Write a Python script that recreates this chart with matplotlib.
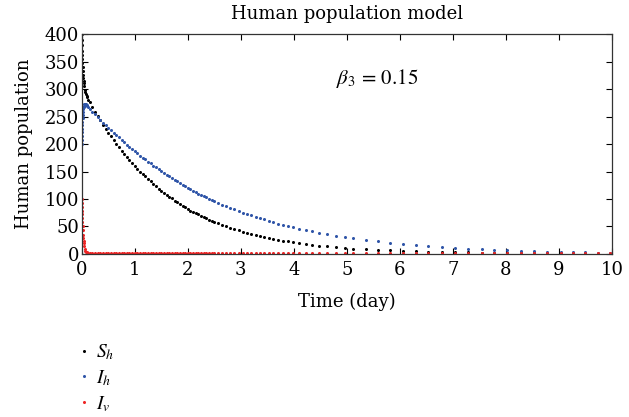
import matplotlib
matplotlib.use("Agg")
import matplotlib.pyplot as plt

# === Values (time in days) ===
t = [0, 0.002, 0.004, 0.006, 0.008, 0.01, 0.013, 0.016, 0.02, 0.025, 0.03, 0.035, 0.04,
     0.05, 0.06, 0.07, 0.08, 0.09, 0.10, 0.12, 0.15, 0.20, 0.25, 0.30, 0.35, 0.40, 0.45,
     0.50, 0.55, 0.60, 0.65, 0.70, 0.75, 0.80, 0.85, 0.90, 0.95, 1.00, 1.05, 1.10, 1.15,
     1.20, 1.25, 1.30, 1.35, 1.40, 1.45, 1.50, 1.55, 1.60, 1.65, 1.70, 1.75, 1.80, 1.85,
     1.90, 1.95, 2.00, 2.05, 2.10, 2.15, 2.20, 2.25, 2.30, 2.35, 2.40, 2.45, 2.50, 2.57,
     2.64, 2.72, 2.80, 2.88, 2.96, 3.04, 3.11, 3.20, 3.28, 3.36, 3.43, 3.53, 3.60, 3.70,
     3.79, 3.89, 3.98, 4.09, 4.22, 4.34, 4.47, 4.62, 4.80, 4.96, 5.11, 5.36, 5.58, 5.81,
     6.05, 6.30, 6.53, 6.79, 7.04, 7.28, 7.54, 7.77, 8.02, 8.28, 8.53, 8.77, 9.03, 9.26,
     9.49, 9.73, 9.96]

S_h = [400, 390, 380, 370, 362, 355, 347, 340, 333, 326, 320, 315, 311,
       305, 299, 295, 291, 288, 285, 281, 276, 267, 259, 251, 243, 235, 228,
       221, 214, 207, 200, 194, 188, 182, 176, 171, 165, 160, 155, 150, 146,
       141, 137, 132, 128, 123, 119, 115, 111, 108, 104, 101, 97, 94, 91,
       88, 85, 82, 79, 77, 74, 72, 69, 67, 65, 62, 60, 58, 55.6,
       53, 50, 47.6, 45, 42.7, 40.4, 38.5, 36.3, 34.4, 32.5, 31, 29, 27.6, 25.8,
       24.3, 22.7, 21.4, 19.8, 18.1, 16.7, 15.3, 13.8, 12.2, 11, 9.9, 8.6, 7.6, 6.6,
       5.8, 5.0, 4.4, 3.8, 3.3, 2.9, 2.5, 2.2, 1.9, 1.7, 1.5, 1.3, 1.15, 1.0,
       0.9, 0.8, 0.7]

I_h = [200, 208, 215, 222, 228, 234, 241, 247, 253, 259, 264, 267, 270,
       272.5, 273.5, 273.5, 272.5, 271, 269.5, 267.4, 264, 259, 254, 249, 244, 239, 234,
       230, 225, 221, 216, 212, 207.5, 203, 199, 195, 191, 187, 183, 179, 175.5,
       172, 168, 165, 161, 158, 154, 151, 147.5, 144, 141, 138, 135, 132, 129,
       126, 123, 120, 118, 115, 112.5, 110, 107.6, 105, 103, 100.6, 98.4, 96, 93,
       90, 87, 84, 81, 78, 75.4, 73, 70, 67.3, 64.9, 62.8, 59.9, 58, 55.3,
       53, 50.5, 48.5, 46, 43.3, 40.9, 38.5, 35.9, 33, 30.6, 28.5, 25.4, 22.8, 20.5,
       18.3, 15.8, 14, 12.4, 10.8, 9.4, 8.2, 7.3, 6.3, 5.5, 4.8, 4.2, 3.6, 3.1,
       2.7, 2.3, 2.0]

I_v = [100, 92, 85, 78, 72, 66, 58, 51, 43, 35, 29, 24, 20,
       14, 9, 6, 4, 2.8, 2.0, 1.6, 1.3, 1.2, 1.2, 1.1, 1.1, 1.1, 1.1,
       1.1, 1.0, 1.0, 1.0, 1.0, 1.0, 1.0, 1.0, 1.0, 1.0, 1.0, 1.0, 1.0, 1.0,
       1.0, 1.0, 1.0, 1.0, 1.0, 1.0, 1.0, 1.0, 1.0, 1.0, 1.0, 1.0, 1.0, 1.0,
       1.0, 1.0, 1.0, 1.0, 1.0, 1.0, 1.0, 1.0, 1.0, 1.0, 1.0, 1.0, 1.0, 1.0,
       1.0, 1.0, 1.0, 1.0, 1.0, 1.0, 1.0, 1.0, 1.0, 1.0, 1.0, 1.0, 1.0, 1.0,
       1.0, 1.0, 1.0, 1.0, 1.0, 1.0, 1.0, 1.0, 1.0, 1.0, 1.0, 1.0, 1.0, 1.0,
       1.0, 1.0, 1.0, 1.0, 1.0, 1.0, 1.0, 1.0, 1.0, 1.0, 1.0, 1.0, 1.0, 1.0,
       1.0, 1.0, 1.0]

X_TICKS = list(range(0, 11))
Y_TICKS = list(range(0, 401, 50))

plt.rcParams['font.family'] = ['DejaVu Serif']
plt.rcParams['mathtext.fontset'] = 'stix'
plt.rcParams['font.size'] = 13

fig = plt.figure(figsize=(6.29, 4.17), dpi=100)
ax = fig.add_axes([0.130, 0.391, 0.843, 0.527])

ax.plot(t, S_h, linestyle='none', marker='o', ms=2.2, mew=0, color='#000000', label=r'$S_h$')
ax.plot(t, I_h, linestyle='none', marker='o', ms=2.2, mew=0, color='#2f55a8', label=r'$I_h$')
ax.plot(t, I_v, linestyle='none', marker='o', ms=2.2, mew=0, color='#ee2424', label=r'$I_v$')

ax.set_xlim(0, 10)
ax.set_ylim(0, 400)
ax.set_xticks(X_TICKS)
ax.set_yticks(Y_TICKS)
ax.tick_params(axis='x', direction='in', top=True, length=4, width=0.8, labelsize=13, pad=5)
ax.tick_params(axis='y', direction='in', right=True, length=4, width=0.8, labelsize=13, pad=2)
for s in ax.spines.values():
    s.set_linewidth(0.9)
    s.set_color('#333333')

ax.set_title("Human population model", fontsize=13, pad=11)
ax.set_xlabel("Time (day)", fontsize=13, labelpad=10)
ax.set_ylabel("Human population", fontsize=13, labelpad=8)
ax.text(4.8, 320, r'$\beta_3\,=\,0.15$', fontsize=15, va='center', ha='left')

fig.legend(loc='upper left', bbox_to_anchor=(0.098, 0.22), frameon=False,
           handlelength=0.5, handletextpad=0.35, labelspacing=0.3, fontsize=14,
           markerscale=1.0)

fig.savefig("out.png", dpi=100)
